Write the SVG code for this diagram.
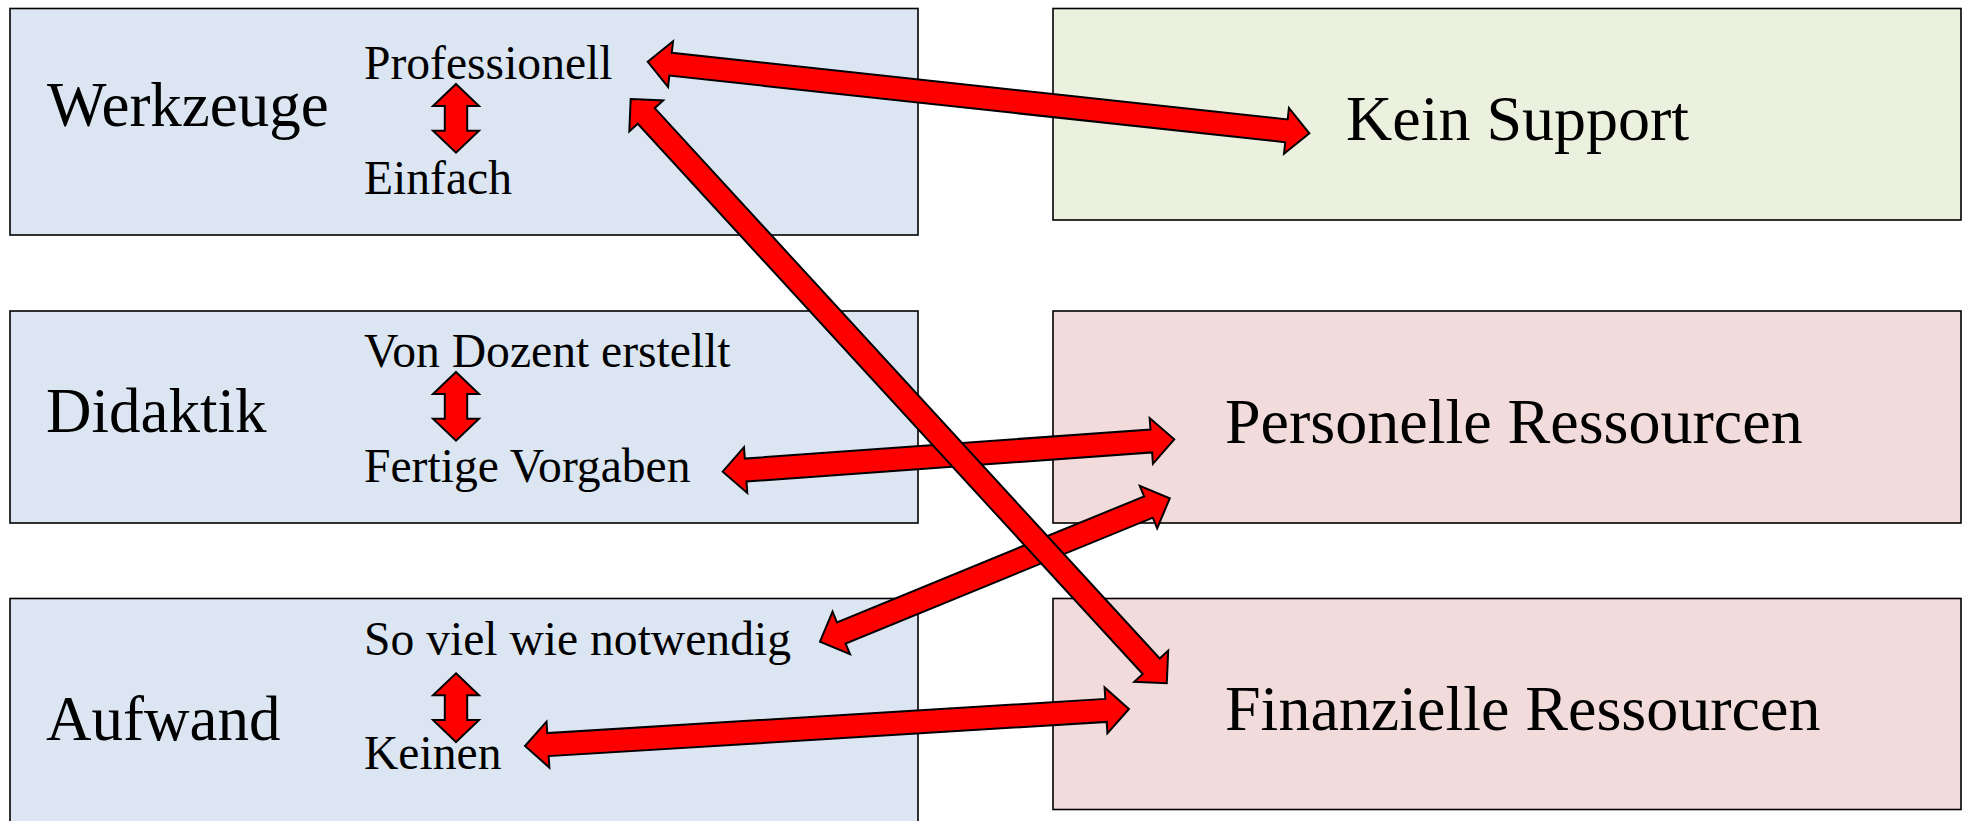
<svg xmlns="http://www.w3.org/2000/svg" width="1966" height="821" viewBox="0 0 1966 821">
<style>
.box{stroke:#000;stroke-width:1.6}
.blue{fill:#DCE6F2}
.green{fill:#EBF1DE}
.pink{fill:#F2DCDB}
.arr{fill:#FF0000;stroke:#000;stroke-width:2;stroke-linejoin:miter}
.big{font-family:"Liberation Serif","Times New Roman",serif;font-size:63px;fill:#000}
.bigr{font-family:"Liberation Serif","Times New Roman",serif;font-size:64px;fill:#000}
.sm{font-family:"Liberation Serif","Times New Roman",serif;font-size:47.6px;fill:#000}
</style>
<defs>
<polygon id="varr" points="0,0 23,22 11.2,22 11.2,46.7 23,46.7 0,68.7 -23,46.7 -11.2,46.7 -11.2,22 -23,22"/>
</defs>
<rect width="1966" height="821" fill="#fff"/>
<g id="werkzeuge">
<rect class="box blue" x="10" y="8.5" width="908" height="226.5"/>
<text class="big" x="47" y="126">Werkzeuge</text>
<text class="sm" x="364" y="79.3">Professionell</text>
<text class="sm" x="364" y="194">Einfach</text>
<use href="#varr" class="arr" x="456" y="84"/>
</g>
<g id="didaktik">
<rect class="box blue" x="10" y="311" width="908" height="212"/>
<text class="big" x="46" y="432">Didaktik</text>
<text class="sm" x="364" y="366.7">Von Dozent erstellt</text>
<text class="sm" x="364" y="481.7">Fertige Vorgaben</text>
<use href="#varr" class="arr" x="456" y="372"/>
</g>
<g id="aufwand">
<rect class="box blue" x="10" y="598.5" width="908" height="240"/>
<text class="big" x="46" y="740">Aufwand</text>
<text class="sm" x="364" y="655">So viel wie notwendig</text>
<text class="sm" x="364" y="769.3">Keinen</text>
<use href="#varr" class="arr" x="456" y="673.3"/>
</g>
<g id="kein-support">
<rect class="box green" x="1053" y="8.5" width="908" height="211.5"/>
<text class="bigr" x="1346" y="140">Kein Support</text>
</g>
<g id="personelle">
<rect class="box pink" x="1053" y="311" width="908" height="212"/>
<text class="bigr" x="1225" y="442.7">Personelle Ressourcen</text>
</g>
<g id="finanzielle">
<rect class="box pink" x="1053" y="598.5" width="908" height="211"/>
<text class="bigr" x="1225" y="730">Finanzielle Ressourcen</text>
</g>
<g id="connectors">
<polygon class="arr" transform="translate(647.7,61.7) rotate(6.177)" points="0,0 23,-23 23,-11.5 642.5,-11.5 642.5,-23 665.5,0 642.5,23 642.5,11.5 23,11.5 23,23"/>
<polygon class="arr" transform="translate(722.7,471.7) rotate(-4.104)" points="0,0 23,-23 23,-11.5 429.7,-11.5 429.7,-23 452.7,0 429.7,23 429.7,11.5 23,11.5 23,23"/>
<polygon class="arr" transform="translate(820,641.7) rotate(-22.29)" points="0,0 23,-23 23,-11.5 355,-11.5 355,-23 378,0 355,23 355,11.5 23,11.5 23,23"/>
<polygon class="arr" transform="translate(525,746) rotate(-3.505)" points="0,0 23,-23 23,-11.5 582.1,-11.5 582.1,-23 605.1,0 582.1,23 582.1,11.5 23,11.5 23,23"/>
<polygon class="arr" transform="translate(630.7,99) rotate(47.46)" points="0,0 23,-23 23,-11.5 769.9,-11.5 769.9,-23 792.9,0 769.9,23 769.9,11.5 23,11.5 23,23"/>
</g>
</svg>
